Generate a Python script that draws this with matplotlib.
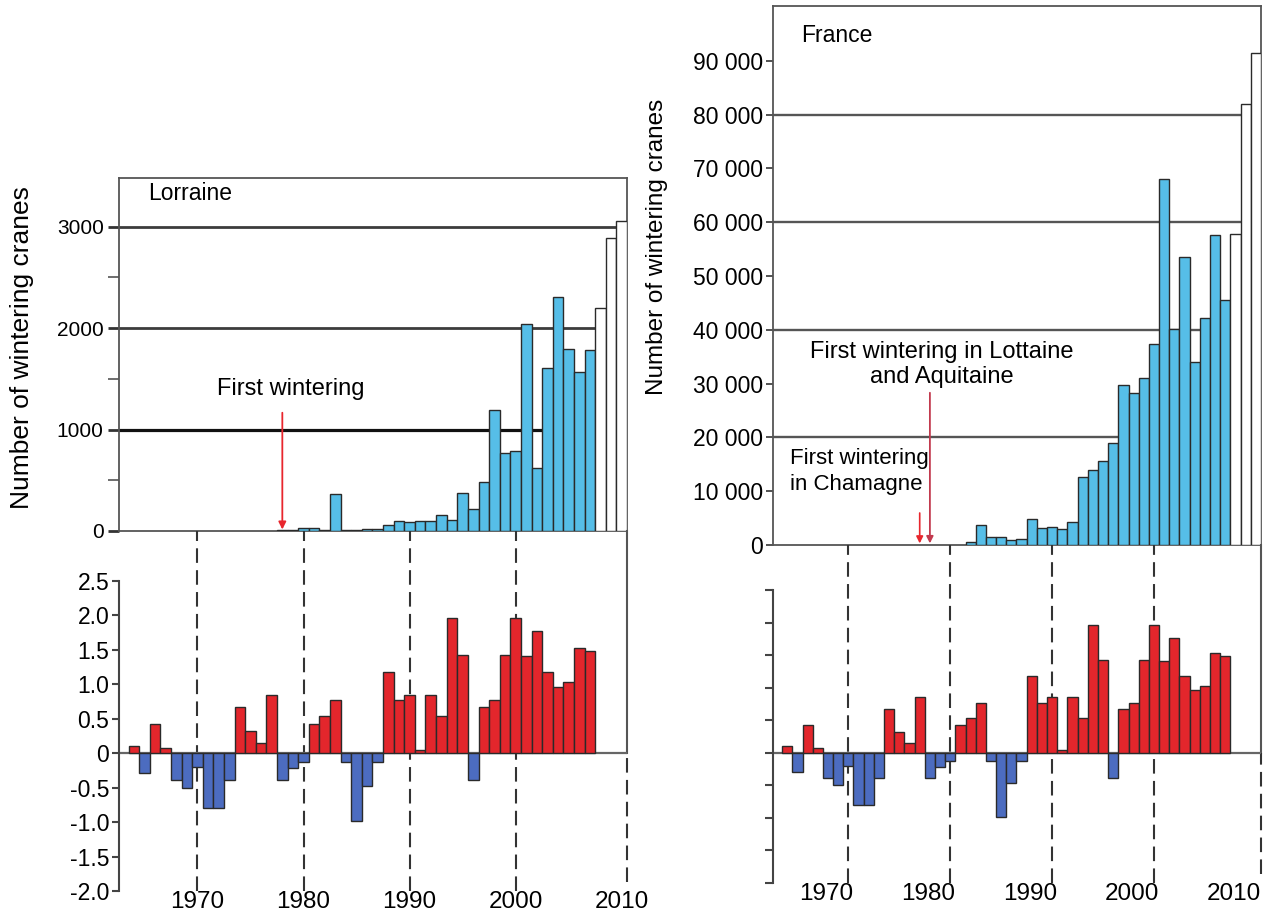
import matplotlib
matplotlib.use("Agg")
import matplotlib.pyplot as plt
import matplotlib.transforms as mtransforms
from matplotlib.ticker import FixedLocator

plt.rcParams['font.family'] = ['Liberation Sans', 'DejaVu Sans']

# ---------------- data ----------------
lorraine_years = list(range(1978, 2011))
lorraine_counts = [8, 8, 25, 25, 5, 365, 5, 5, 20, 20, 60, 100, 85, 95, 95,
                   160, 110, 370, 215, 485, 1190, 770, 790, 2040, 620, 1610,
                   2305, 1790, 1565, 1780, 2195, 2885, 3055]
france_years = list(range(1982, 2011))
france_counts = [500, 3800, 1500, 1500, 900, 1200, 4800, 3100, 3300, 3000,
                 4300, 12700, 13900, 15600, 18900, 29700, 28300, 31000, 37400,
                 68000, 40200, 53600, 34000, 42200, 57700, 45600, 57800, 82000,
                 91500]
provisional_from = 2008  # open (white) bars

anomaly_years = list(range(1964, 2008))
anomaly_values = [0.10, -0.29, 0.43, 0.07, -0.39, -0.50, -0.20, -0.80, -0.80,
                  -0.39, 0.67, 0.32, 0.15, 0.85, -0.39, -0.22, -0.13, 0.43,
                  0.54, 0.77, -0.13, -0.98, -0.47, -0.13, 1.18, 0.77, 0.85,
                  0.05, 0.85, 0.54, 1.97, 1.43, -0.39, 0.67, 0.77, 1.43, 1.97,
                  1.41, 1.77, 1.18, 0.96, 1.03, 1.53, 1.49]

decades = [1970, 1980, 1990, 2000, 2010]
decade_labels = ['1970', '1980', '1990', '2000', '2010']

lorraine_yticks = [0, 1000, 2000, 3000]
lorraine_minor = [500, 1500, 2500]
lorraine_grid = [1000, 2000, 3000]
france_yticks = [0, 10000, 20000, 30000, 40000, 50000, 60000, 70000, 80000, 90000]
france_ylabels = ['0', '10 000', '20 000', '30 000', '40 000', '50 000',
                  '60 000', '70 000', '80 000', '90 000']
france_grid = [20000, 40000, 60000, 80000]
anom_yticks = [2.5, 2.0, 1.5, 1.0, 0.5, 0, -0.5, -1.0, -1.5, -2.0]
anom_ylabels = ['2.5', '2.0', '1.5', '1.0', '0.5', '0', '-0.5', '-1.0', '-1.5', '-2.0']

ylabel_text = 'Number of wintering cranes'

# ---------------- styles ----------------
BLUE = '#56BEE8'
RED = '#E3262C'
DBLUE = '#4C6CC0'
EDGE = '#2a2a2a'
XLIM = (1962.6, 2010.5)

W, H = 1266, 915
fig = plt.figure(figsize=(W / 100, H / 100), dpi=100)


def rect(x0, y0, x1, y1):
    return [x0 / W, 1 - y1 / H, (x1 - x0) / W, (y1 - y0) / H]


axL = fig.add_axes(rect(119, 178, 627, 531))
axLb = fig.add_axes(rect(119, 581, 627, 891))
axF = fig.add_axes(rect(773, 6, 1261, 545))
axFb = fig.add_axes(rect(773, 590, 1261, 883))


def top_panel(ax, years, counts, ylim, grid, grid_colors, grid_lw):
    colors = [BLUE if y < provisional_from else 'white' for y in years]
    ax.bar(years, counts, width=1.0, color=colors, edgecolor=EDGE,
           linewidth=1.0, zorder=3)
    for g, c, lw in zip(grid, grid_colors, grid_lw):
        ax.axhline(g, color=c, lw=lw, zorder=1)
    ax.set_xlim(*XLIM)
    ax.set_ylim(*ylim)
    ax.set_xticks([])
    for s in ax.spines.values():
        s.set_color('#555555')
        s.set_linewidth(1.3)


# ---------- Lorraine top ----------
top_panel(axL, lorraine_years, lorraine_counts, (0, 3480), lorraine_grid,
          ['#111111', '#3c3c3c', '#3c3c3c'], [2.3, 2.0, 2.0])
axL.set_yticks(lorraine_yticks)
axL.set_yticklabels([str(v) for v in lorraine_yticks])
axL.yaxis.set_minor_locator(FixedLocator(lorraine_minor))
axL.tick_params(axis='y', which='major', length=8, width=2.0, color='#333333',
                labelsize=15, pad=3)
axL.tick_params(axis='y', which='minor', length=8, width=1.2, color='#555555')
axL.text(0.057, 0.957, 'Lorraine', transform=axL.transAxes, fontsize=16.5,
         va='center', ha='left')
axL.text(1978.8, 1403, 'First wintering', fontsize=17, ha='center', va='center')
axL.annotate('', xy=(1978, 15), xytext=(1978, 1166),
             arrowprops=dict(arrowstyle='-|>', color='#E8262D', lw=1.3,
                             mutation_scale=11, shrinkA=0, shrinkB=0), zorder=5)

# ---------- France top ----------
top_panel(axF, france_years, france_counts, (0, 100200), france_grid,
          ['#555555'] * 4, [1.7] * 4)
axF.set_yticks(france_yticks)
axF.set_yticklabels(france_ylabels)
axF.tick_params(axis='y', which='major', length=5, width=1.3, color='#444444',
                labelsize=16.5, pad=2)
axF.text(0.057, 0.946, 'France', transform=axF.transAxes, fontsize=16.5,
         va='center', ha='left')
axF.text(1979.2, 33600, 'First wintering in Lottaine\nand Aquitaine',
         fontsize=17, ha='center', va='center', linespacing=1.2)
axF.text(1964.25, 13670, 'First wintering\nin Chamagne', fontsize=16,
         ha='left', va='center', linespacing=1.3)
axF.annotate('', xy=(1978, 300), xytext=(1978, 28300),
             arrowprops=dict(arrowstyle='-|>', color='#C23A4E', lw=1.3,
                             mutation_scale=10, shrinkA=0, shrinkB=0), zorder=5)
axF.annotate('', xy=(1977, 300), xytext=(1977, 5950),
             arrowprops=dict(arrowstyle='-|>', color='#E8262D', lw=1.2,
                             mutation_scale=10, shrinkA=0, shrinkB=0), zorder=5)

# ---------- anomaly panels ----------


def bottom_panel(ax, top_ax, labels_on, label_size, tick_len, xlabel_shift_px):
    colors = [RED if v >= 0 else DBLUE for v in anomaly_values]
    ax.bar(anomaly_years, anomaly_values, width=1.0, color=colors,
           edgecolor=EDGE, linewidth=1.0, zorder=3)
    ax.set_xlim(*XLIM)
    ax.set_ylim(-2.0, 2.5)
    ax.axhline(0, color='#666666', lw=1.6, zorder=2)
    for side in ['top', 'right', 'bottom']:
        ax.spines[side].set_visible(False)
    ax.spines['left'].set_color('#444444')
    ax.spines['left'].set_linewidth(1.5)
    ax.set_yticks(anom_yticks)
    if labels_on:
        ax.set_yticklabels(anom_ylabels)
    else:
        ax.set_yticklabels([])
    ax.tick_params(axis='y', length=tick_len, width=1.5, color='#444444',
                   labelsize=label_size, pad=2)
    # decade guide lines crossing the gap up to the upper panel
    pb = ax.get_position()
    pt = top_ax.get_position()
    top_ext = (pt.y0 - pb.y0) / pb.height
    trans = mtransforms.blended_transform_factory(ax.transData, ax.transAxes)
    for d in decades[:-1]:
        ax.plot([d, d], [0, top_ext], transform=trans, color='#333333',
                lw=1.5, ls=(0, (7, 3.5)), zorder=1, clip_on=False)
    xr = XLIM[1]
    trans2 = mtransforms.blended_transform_factory(ax.transData, ax.transAxes)
    y0_axes = (0 - (-2.0)) / 4.5
    ax.plot([xr, xr], [y0_axes, top_ext], transform=trans2, color='#555555',
            lw=1.5, zorder=1, clip_on=False)
    ax.plot([xr, xr], [0.03, y0_axes], transform=trans2, color='#333333',
            lw=1.5, ls=(0, (7, 3.5)), zorder=1, clip_on=False)
    ax.set_xticks(decades)
    ax.set_xticklabels(decade_labels)
    ax.tick_params(axis='x', length=0, labelsize=17.5, pad=0)
    if xlabel_shift_px:
        off = mtransforms.ScaledTranslation(xlabel_shift_px / 100, 0,
                                            fig.dpi_scale_trans)
        for lab in ax.get_xticklabels():
            lab.set_transform(lab.get_transform() + off)


bottom_panel(axLb, axL, True, 16.5, 5, 0)
bottom_panel(axFb, axF, False, 16.5, 6, -22)

fig.text(22 / W, 1 - 348 / H, ylabel_text, rotation=90, fontsize=19,
         ha='center', va='center')
fig.text(657 / W, 1 - 247 / H, ylabel_text, rotation=90, fontsize=17.5,
         ha='center', va='center')

fig.savefig('out.png', dpi=100, facecolor='white')
